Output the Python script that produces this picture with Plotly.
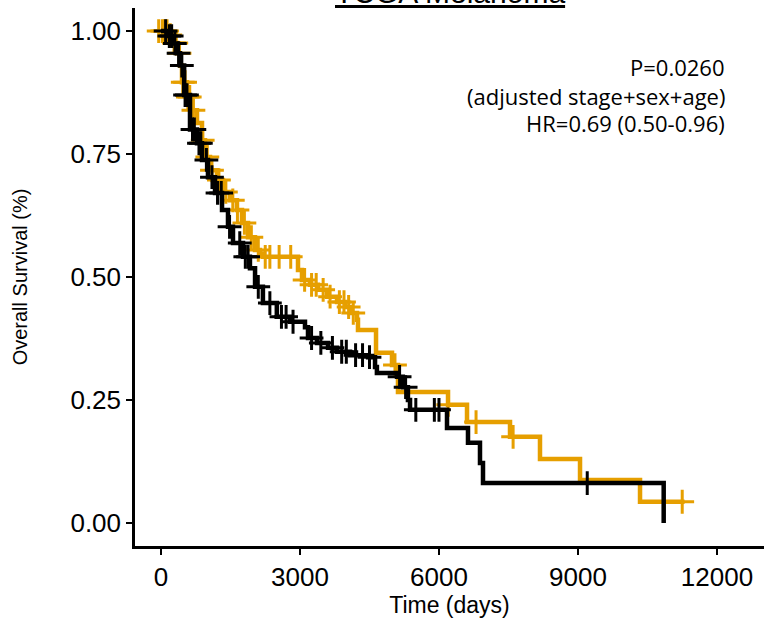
import plotly.graph_objects as go

# ---- data ----
black_t = [0, 150, 250, 345, 410, 500, 626, 777, 885, 1014, 1166, 1317, 1446, 1554,
           1770, 1920, 2030, 2200, 2500, 2785, 3108, 3173, 3367, 3605, 3800, 4080,
           4470, 4620, 4660, 5094, 5220, 5330, 5375, 6173, 6626, 6885, 6950, 10850]
black_s = [1.0, 0.99, 0.975, 0.955, 0.93, 0.87, 0.80, 0.772, 0.738, 0.703, 0.671, 0.636,
           0.602, 0.569, 0.541, 0.518, 0.48, 0.447, 0.419, 0.409, 0.398, 0.376, 0.366,
           0.356, 0.348, 0.341, 0.337, 0.317, 0.305, 0.297, 0.276, 0.25, 0.23, 0.193,
           0.163, 0.122, 0.081, 0.0]
black_end = 10850

orange_t = [0, 194, 260, 345, 410, 453, 560, 669, 777, 885, 950, 1058, 1209, 1338, 1489,
            1640, 1748, 1878, 2029, 2137, 2200, 2957, 3043, 3216, 3389, 3583, 3799, 3972,
            4080, 4231, 4252, 4641, 4986, 5115, 6195, 6605, 7533, 8180, 9044, 10339]
orange_s = [1.0, 0.992, 0.976, 0.955, 0.93, 0.896, 0.866, 0.839, 0.813, 0.778, 0.744, 0.717,
            0.697, 0.673, 0.656, 0.636, 0.61, 0.581, 0.555, 0.548, 0.541, 0.514, 0.494,
            0.484, 0.474, 0.46, 0.449, 0.439, 0.427, 0.413, 0.392, 0.346, 0.321, 0.266,
            0.24, 0.205, 0.175, 0.13, 0.087, 0.043]
orange_end = 11300

black_censor = [100, 180, 230, 300, 380, 450, 520, 560, 680, 720, 820, 860, 980, 1100,
                1220, 1300, 1480, 1700, 1820, 1880, 2100, 2350, 2600, 2700, 2850, 3250,
                3450, 3700, 3900, 4000, 4200, 4350, 4500, 5150, 5280, 5500, 5900, 6000, 9200]
orange_censor = [-50, 30, 80, 130, 200, 280, 330, 400, 470, 520, 580, 620, 700, 900, 1000,
                 1100, 1250, 1400, 1550, 1650, 1800, 1950, 2100, 2250, 2350, 2550, 2800,
                 3100, 3250, 3350, 3500, 3650, 3850, 3950, 4050, 4150, 5050, 6200, 6800,
                 7600, 11250]

x_ticks = [0, 3000, 6000, 9000, 12000]
x_tick_text = ["0", "3000", "6000", "9000", "12000"]
y_ticks = [0.0, 0.25, 0.5, 0.75, 1.0]
y_tick_text = ["0.00", "0.25", "0.50", "0.75", "1.00"]

title_text = "TCGA Melanoma"
stats_lines = ["P=0.0260", "(adjusted stage+sex+age)", "HR=0.69 (0.50-0.96)"]

BLACK = "#000000"
ORANGE = "#E69F00"


def surv_at(times, surv, t):
    s = surv[0]
    for ti, si in zip(times, surv):
        if ti <= t:
            s = si
        else:
            break
    return s


fig = go.Figure()

for times, surv, end, cens, col in [
    (orange_t, orange_s, orange_end, orange_censor, ORANGE),
    (black_t, black_s, black_end, black_censor, BLACK),
]:
    xs = list(times) + [end]
    ys = list(surv) + [surv[-1]]
    fig.add_trace(go.Scatter(x=xs, y=ys, mode="lines", line=dict(color=col, width=4.5, shape="hv"),
                             showlegend=False, hoverinfo="skip"))
    fig.add_trace(go.Scatter(x=cens, y=[surv_at(times, surv, c) for c in cens], mode="markers",
                             marker=dict(symbol="cross-thin", size=17, line=dict(color=col, width=3)),
                             showlegend=False, hoverinfo="skip"))

for txt, py in zip(stats_lines, [67, 96, 123]):
    fig.add_annotation(x=(727 - 135) / 629, y=(546 - py) / 538, xref="paper", yref="paper", text=txt,
                       showarrow=False, xanchor="right", yanchor="middle",
                       font=dict(family="Open Sans", size=22, color="black"))

fig.add_annotation(x=0.5, y=1, xref="paper", yref="paper", text="<u>" + title_text + "</u>",
                   showarrow=False, xanchor="center", yanchor="bottom", yshift=-3,
                   font=dict(family="Liberation Sans", size=30, color="black"))

fig.update_layout(
    width=764, height=619,
    margin=dict(l=135, r=0, t=8, b=73, autoexpand=False),
    plot_bgcolor="white", paper_bgcolor="white",
    font=dict(family="Liberation Sans", color="black"),
)
fig.update_xaxes(range=[-561, 13015], tickvals=x_ticks, ticktext=x_tick_text, ticks="outside",
                 ticklen=6, tickwidth=2, automargin=False,
                 tickcolor="black", showline=True, linewidth=2.5, linecolor="black", showgrid=False,
                 zeroline=False, tickfont=dict(size=26, color="black"),
                 title=dict(text="Time (days)", font=dict(size=23), standoff=6))
fig.update_yaxes(range=[-0.047, 1.047], tickvals=y_ticks, ticktext=y_tick_text, ticks="outside",
                 ticklen=6, tickwidth=2, tickcolor="black", showline=True, linewidth=2.5,
                 linecolor="black", showgrid=False, zeroline=False, automargin=False,
                 tickfont=dict(size=26, color="black"),
                 title=dict(text="Overall Survival (%)", font=dict(size=20), standoff=38))

fig.write_html("out.html", config={"displayModeBar": False},
               post_script="document.body.style.margin='0';document.body.style.overflow='hidden';")
